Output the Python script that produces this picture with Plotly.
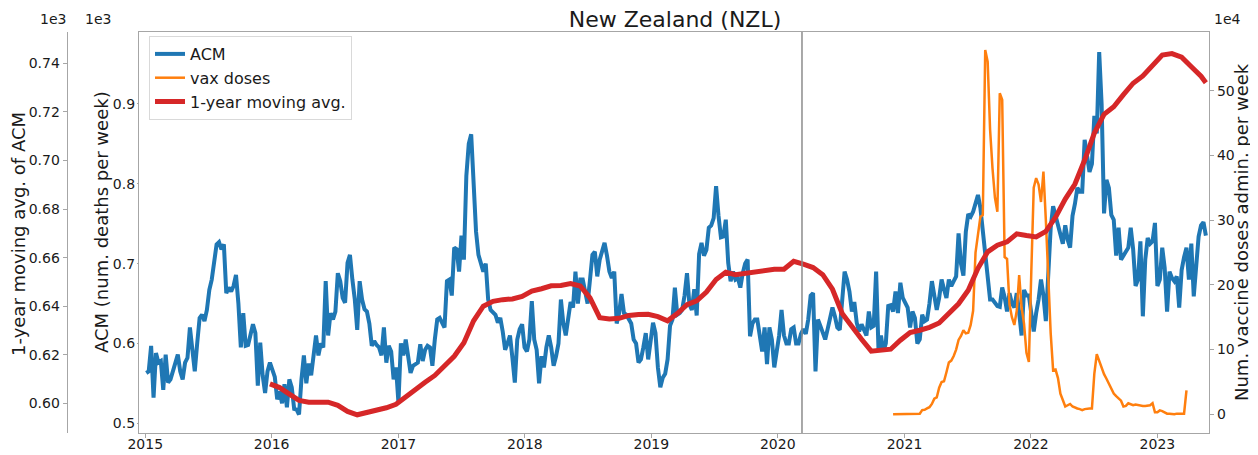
import pandas as pd
import plotly.graph_objects as go

# ---------------- data ----------------
# weekly all-cause mortality (deaths per week), one list per calendar year
acm_2015 = [563, 565, 597, 532, 588, 576, 578, 542, 586, 551, 555, 565, 575, 586, 565, 555, 576, 582, 620, 590,
            565, 600, 632, 636, 628, 642, 667, 680, 705, 724, 727, 718, 724, 663, 670, 665, 672, 686, 650, 595,
            638, 597, 598, 612, 624, 613, 547, 601, 560, 538, 565, 576]
acm_2016 = [567, 558, 530, 540, 525, 549, 520, 555, 545, 518, 517, 511, 555, 585, 550, 575, 560, 585, 610, 585,
            600, 595, 678, 610, 638, 630, 640, 688, 678, 657, 651, 701, 711, 680, 655, 617, 678, 655, 643, 640,
            625, 597, 603, 598, 595, 585, 620, 576, 597, 590, 555, 570]
acm_2017 = [526, 600, 585, 605, 585, 563, 572, 574, 576, 599, 578, 592, 597, 595, 572, 605, 630, 632, 627, 620,
            678, 680, 660, 720, 718, 690, 735, 705, 810, 850, 862, 809, 740, 711, 700, 690, 700, 655, 642, 638,
            636, 626, 632, 615, 592, 600, 610, 582, 551, 605, 618, 624]
acm_2018 = [595, 590, 605, 653, 605, 592, 550, 584, 570, 595, 610, 595, 572, 584, 600, 655, 625, 610, 634, 652,
            645, 690, 650, 680, 680, 667, 650, 680, 711, 715, 684, 705, 718, 726, 710, 690, 682, 690, 625, 638,
            662, 638, 636, 630, 625, 605, 600, 576, 580, 595, 613, 580]
acm_2019 = [607, 626, 613, 570, 545, 557, 562, 580, 622, 630, 670, 636, 638, 642, 660, 688, 649, 642, 668, 635,
            712, 726, 710, 717, 745, 748, 757, 797, 760, 733, 734, 755, 701, 678, 690, 680, 682, 670, 688, 700,
            705, 609, 625, 630, 630, 613, 590, 620, 574, 620, 605, 570]
acm_2020 = [588, 610, 642, 610, 600, 600, 618, 620, 600, 600, 612, 618, 612, 630, 660, 663, 565, 630, 622, 612,
            605, 618, 630, 645, 634, 620, 617, 660, 690, 680, 665, 640, 652, 626, 615, 624, 617, 610, 640, 620,
            622, 690, 590, 610, 590, 600, 647, 648, 640, 665, 638, 676]
acm_2021 = [657, 652, 645, 620, 640, 632, 600, 605, 636, 628, 630, 650, 678, 660, 642, 657, 680, 668, 657, 680,
            672, 678, 684, 738, 700, 685, 740, 762, 759, 765, 778, 786, 770, 740, 715, 684, 655, 655, 651, 647,
            646, 670, 658, 640, 663, 650, 645, 663, 638, 610, 667, 660]
acm_2022 = [660, 638, 615, 638, 655, 680, 660, 628, 690, 745, 772, 760, 750, 735, 725, 748, 730, 720, 760, 775,
            795, 790, 790, 855, 830, 815, 825, 885, 863, 965, 900, 763, 805, 795, 761, 755, 710, 745, 705, 710,
            713, 720, 745, 718, 672, 680, 728, 634, 705, 732, 725, 728]
acm_2023 = [751, 672, 680, 720, 695, 640, 690, 682, 678, 684, 645, 692, 708, 720, 680, 725, 659, 700, 734, 748,
            752, 735]
acm_start = "2015-01-04"

# 1-year moving average of ACM, sampled every 4 weeks (index = week number of the ACM series)
ma_week_index = list(range(51, 436, 4)) + [437]
ma_values = [608, 606.5, 603.8, 601.2, 600.5, 600.5, 600.5, 599.2, 596.7, 595.3,
             596.3, 597, 598.2, 599.6, 602.8, 605.4, 608.7, 611.5, 615.4, 619.4,
             625, 634, 640, 642, 642.7, 643, 644, 646.2, 647.2, 648.4,
             648.5, 649.3, 648.3, 643.4, 635.3, 634.7, 635, 636.2, 636.6, 636.7,
             635.7, 634, 637, 640.6, 642.2, 645.8, 651, 654, 653, 653.5,
             654.4, 654.5, 655.2, 655.2, 658.5, 657.3, 655.9, 653, 647, 637,
             631.4, 626.4, 621.5, 621.8, 622.3, 626, 629.2, 630.1, 631.3, 633.1,
             636.9, 641, 646.6, 655.6, 662.4, 665.1, 666.5, 669.8, 669.1, 668.5,
             670.8, 676.7, 684.1, 690.3, 700.2, 711.3, 719, 722.1, 727.1, 731.8,
             734.8, 738.8, 743.4, 744, 742.5, 738.6, 734.7, 732]

# weekly vaccine doses administered (units of 1e4), starting at ACM week 308
vax_week_start = 308
vax_doses_e4 = [0, 0, 0, 0, 0, 0, 0, 0, 0, 0,
                0.05, 0.1, 0.65, 0.7, 0.9, 1.1, 1.6, 2.4, 2.6, 4.1,
                5.0, 5.1, 6.5, 8.0, 8.3, 9.0, 10.0, 11.5, 12.1, 13.0,
                12.5, 12.6, 13.8, 16.0, 25.0, 27.5, 30.5, 30.8, 56.3, 54.5,
                44, 38, 33.5, 31.3, 49.6, 48.6, 24.3, 24, 17, 15,
                13.8, 16, 21.5, 16.5, 14, 9.5, 8.1, 22, 35, 36.5,
                35.5, 32.8, 37.5, 30, 20, 12.5, 6.8, 6.9, 5.6, 3.2,
                2.2, 1.2, 1.4, 1.6, 1.2, 1.0, 0.9, 0.8, 0.65, 0.8,
                0.9, 0.9, 0.9, 6.3, 9.3, 8.2, 7.0, 6.2, 5.5, 4.7,
                4.0, 3.2, 2.8, 2.5, 2.1, 1.2, 1.3, 1.7, 1.5, 1.4,
                1.5, 1.4, 1.4, 1.3, 1.3, 1.3, 1.4, 1.7, 0.3, 0.3,
                0.6, 0.5, 0.3, 0.1, 0.1, 0.0, 0.0, 0.1, 0.1, 0.1,
                0.1, 3.7]

year_ticks = [2015, 2016, 2017, 2018, 2019, 2020, 2021, 2022, 2023]
acm_ticks = [500, 600, 700, 800, 900]
acm_ticktext = ["0.5", "0.6", "0.7", "0.8", "0.9"]
ma_ticks = [600, 620, 640, 660, 680, 700, 720, 740]
ma_ticktext = ["0.60", "0.62", "0.64", "0.66", "0.68", "0.70", "0.72", "0.74"]
vax_ticks = [0, 10, 20, 30, 40, 50]
pandemic_date = "2020-03-11"
title_text = "New Zealand (NZL)"

# ---------------- build ----------------
acm = acm_2015 + acm_2016 + acm_2017 + acm_2018 + acm_2019 + acm_2020 + acm_2021 + acm_2022 + acm_2023
acm_dates = pd.date_range(acm_start, periods=len(acm), freq="7D")
ma_dates = [acm_dates[i] for i in ma_week_index]
vax_dates = acm_dates[vax_week_start:vax_week_start + len(vax_doses_e4)]

# the page body adds an 8px offset; work in page pixels and convert
OFF = 8
W, H = 1258 - OFF, 455 - OFF
PLOT_L, PLOT_R, PLOT_T, PLOT_B = 139, 1209, 32, 433   # page pixels of the plot frame
L = 2
R = W - (PLOT_R - OFF)
T = PLOT_T - OFF
B = H - (PLOT_B - OFF)
PW = W - L - R
PH = H - T - B


def px_x(p):
    return (p - OFF - L) / PW


def px_y(p):
    return (H - B - (p - OFF)) / PH


FRAME = "#a6a6a6"
TXT = "#1a1a1a"
FONT = "DejaVu Sans"

fig = go.Figure()
fig.add_trace(go.Scatter(x=acm_dates, y=acm, name="ACM", mode="lines",
                         line=dict(color="#1f77b4", width=4), yaxis="y"))
fig.add_trace(go.Scatter(x=vax_dates, y=vax_doses_e4, name="vax doses", mode="lines",
                         line=dict(color="#ff7f0e", width=2.5), yaxis="y2"))
fig.add_trace(go.Scatter(x=ma_dates, y=ma_values, name="1-year moving avg.", mode="lines",
                         line=dict(color="#d62728", width=5), yaxis="y3"))

fig.add_shape(type="line", xref="x", yref="paper", x0=pandemic_date, x1=pandemic_date,
              y0=0, y1=1, line=dict(color="#8c8c8c", width=1.5))

common = dict(showgrid=False, zeroline=False, showline=True, linecolor=FRAME, linewidth=1.2,
              tickfont=dict(family=FONT, size=14, color=TXT))

fig.update_layout(
    width=W, height=H,
    margin=dict(l=L, r=R, t=T, b=B, autoexpand=False),
    paper_bgcolor="white", plot_bgcolor="white",
    font=dict(family=FONT, size=14, color=TXT),
    title=dict(text=title_text, x=px_x(675), xref="paper", xanchor="center",
               y=1 - (19 - OFF) / H, yref="container", yanchor="middle",
               font=dict(family=FONT, size=22, color=TXT)),
    legend=dict(x=px_x(149), y=px_y(36), xanchor="left", yanchor="top",
                bgcolor="white", bordercolor="#d9d9d9", borderwidth=1,
                font=dict(family=FONT, size=16, color=TXT), tracegroupgap=0),
    xaxis=dict(domain=[px_x(PLOT_L), 1], type="date", range=["2014-12-14", "2023-05-30"],
               tickvals=[f"{y}-01-01" for y in year_ticks], ticktext=[str(y) for y in year_ticks],
               ticks="outside", ticklen=4, tickcolor=FRAME, mirror=True,
               ticklabelstandoff=-6, **common),
    yaxis=dict(range=[487.8, 990.2], tickvals=acm_ticks, ticktext=acm_ticktext,
               ticks="outside", ticklen=1, tickcolor=FRAME, mirror=True,
               ticklabelstandoff=-1, **common),
    yaxis2=dict(overlaying="y", side="right", anchor="x", range=[-2.89, 59.07],
                tickvals=vax_ticks, ticktext=[str(v) for v in vax_ticks],
                ticks="outside", ticklen=4, tickcolor=FRAME, **common),
    yaxis3=dict(overlaying="y", side="left", anchor="free", position=px_x(66.7),
                range=[587.8, 752.9], tickvals=ma_ticks, ticktext=ma_ticktext,
                ticks="outside", ticklen=4, tickcolor=FRAME, **common),
)


def ann(text, x, y, size=14, angle=0):
    fig.add_annotation(text=text, xref="paper", yref="paper", x=px_x(x), y=px_y(y),
                       xanchor="center", yanchor="middle", showarrow=False, textangle=angle,
                       font=dict(family=FONT, size=size, color=TXT))


ann("1-year moving avg. of ACM", 19, 234, size=18, angle=-90)
ann("ACM (num. deaths per week)", 101, 222, size=18, angle=-90)
ann("Num. vaccine doses admin. per week", 1241, 232, size=18, angle=-90)
ann("1e3", 53, 19)
ann("1e3", 98, 19)
ann("1e4", 1227, 19)

fig.write_html("out.html", config={"displayModeBar": False})
